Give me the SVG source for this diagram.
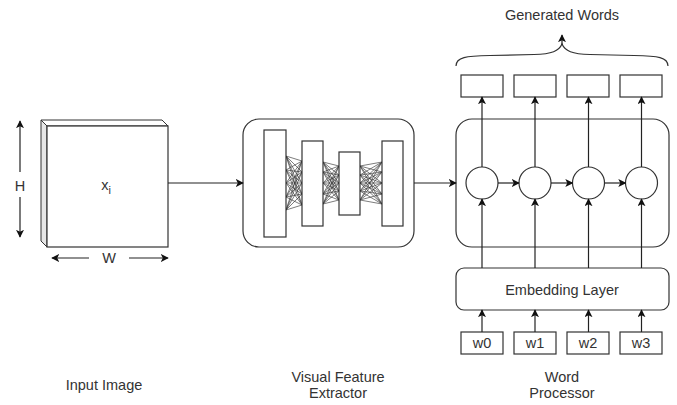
<svg xmlns="http://www.w3.org/2000/svg" width="677" height="405" viewBox="0 0 677 405">
  <style>
    .ln { fill: none; stroke: #222; stroke-width: 1.2; }
    .box { fill: #fff; stroke: #333; stroke-width: 1.2; }
    .mesh { fill: none; stroke: #333; stroke-width: 0.8; stroke-opacity: 0.8; }
    .t { font-family: "Liberation Sans", Arial, sans-serif; font-size: 14.5px; fill: #333; text-anchor: middle; }
  </style>
  <defs>
    <marker id="arr" viewBox="0 0 10 10" refX="9" refY="5" markerWidth="8" markerHeight="8" markerUnits="userSpaceOnUse" orient="auto-start-reverse">
      <path d="M0,0 L10,5 L0,10 L2.5,5 z" fill="#111"/>
    </marker>
  </defs>

  <!-- input image block -->
  <g id="input-image">
    <polygon points="41,120 47,126 47,247 41,241" fill="#e6e6e6" stroke="#333" stroke-width="1"/>
    <polygon points="41,120 162,120 168,126 47,126" fill="#fff" stroke="#333" stroke-width="1"/>
    <rect x="47" y="126" width="121" height="121" class="box"/>
    <text x="106" y="190" class="t" font-size="15">x<tspan font-size="11" dy="4">i</tspan></text>
    <line x1="20" y1="172" x2="20" y2="121" class="ln" marker-end="url(#arr)"/>
    <line x1="20" y1="197" x2="20" y2="237" class="ln" marker-end="url(#arr)"/>
    <text x="20" y="191" class="t">H</text>
    <line x1="89" y1="258" x2="52" y2="258" class="ln" marker-end="url(#arr)"/>
    <line x1="129" y1="258" x2="168" y2="258" class="ln" marker-end="url(#arr)"/>
    <text x="109" y="263" class="t">W</text>
    <text x="104" y="390" class="t">Input Image</text>
  </g>

  <!-- visual feature extractor -->
  <g id="visual-feature-extractor">
    <rect x="243" y="119" width="171" height="128" rx="16" class="box"/>
    <g class="mesh">
      <!-- layer 1 to layer 2 -->
      <path d="M286,156 L302,161 M286,156 L302,172 M286,156 L302,183 M286,156 L302,194 M286,156 L302,205
               M286,170 L302,161 M286,170 L302,172 M286,170 L302,183 M286,170 L302,194 M286,170 L302,205
               M286,183 L302,161 M286,183 L302,172 M286,183 L302,183 M286,183 L302,194 M286,183 L302,205
               M286,197 L302,161 M286,197 L302,172 M286,197 L302,183 M286,197 L302,194 M286,197 L302,205
               M286,210 L302,161 M286,210 L302,172 M286,210 L302,183 M286,210 L302,194 M286,210 L302,205"/>
      <!-- layer 2 to layer 3 -->
      <path d="M323,162 L339,166 M323,162 L339,175 M323,162 L339,183 M323,162 L339,191 M323,162 L339,200
               M323,172 L339,166 M323,172 L339,175 M323,172 L339,183 M323,172 L339,191 M323,172 L339,200
               M323,183 L339,166 M323,183 L339,175 M323,183 L339,183 M323,183 L339,191 M323,183 L339,200
               M323,194 L339,166 M323,194 L339,175 M323,194 L339,183 M323,194 L339,191 M323,194 L339,200
               M323,204 L339,166 M323,204 L339,175 M323,204 L339,183 M323,204 L339,191 M323,204 L339,200"/>
      <!-- layer 3 to layer 4 -->
      <path d="M360,166 L382,162 M360,166 L382,172 M360,166 L382,183 M360,166 L382,194 M360,166 L382,204
               M360,175 L382,162 M360,175 L382,172 M360,175 L382,183 M360,175 L382,194 M360,175 L382,204
               M360,183 L382,162 M360,183 L382,172 M360,183 L382,183 M360,183 L382,194 M360,183 L382,204
               M360,191 L382,162 M360,191 L382,172 M360,191 L382,183 M360,191 L382,194 M360,191 L382,204
               M360,200 L382,162 M360,200 L382,172 M360,200 L382,183 M360,200 L382,194 M360,200 L382,204"/>
    </g>
    <rect x="264" y="130" width="22" height="107" class="box"/>
    <rect x="302" y="141" width="21" height="85" class="box"/>
    <rect x="339" y="152" width="21" height="63" class="box"/>
    <rect x="382" y="141" width="21" height="85" class="box"/>
    <text x="338" y="382" class="t">Visual Feature</text>
    <text x="338" y="398" class="t">Extractor</text>
  </g>

  <!-- word processor -->
  <g id="word-processor">
    <rect x="456" y="119" width="213" height="128" rx="16" class="box"/>
    <circle cx="482" cy="183" r="16" class="box"/>
    <circle cx="535" cy="183" r="16" class="box"/>
    <circle cx="588.5" cy="183" r="16" class="box"/>
    <circle cx="641.5" cy="183" r="16" class="box"/>
    <text x="562" y="382" class="t">Word</text>
    <text x="562" y="398" class="t">Processor</text>
  </g>

  <g id="embedding-layer">
    <rect x="456" y="268" width="213" height="42" rx="8" class="box"/>
    <text x="562" y="295" class="t">Embedding Layer</text>
  </g>

  <g id="generated-words">
    <rect x="461" y="75" width="42" height="22" class="box"/>
    <rect x="514" y="75" width="42" height="22" class="box"/>
    <rect x="567" y="75" width="42" height="22" class="box"/>
    <rect x="620" y="75" width="42" height="22" class="box"/>
    <path d="M456,66 C456,57 466,56 490,55.5 L534,54.5 C552,54 559,51 562,44 C565,51 572,54 590,54.5 L634,55.5 C658,56 668,57 668,66" fill="none" stroke="#333" stroke-width="1.2"/>
    <line x1="562" y1="45" x2="562" y2="35" class="ln" marker-end="url(#arr)"/>
    <text x="562" y="20" class="t">Generated Words</text>
  </g>

  <g id="input-words">
    <rect x="461" y="332" width="42" height="22" class="box"/>
    <rect x="514" y="332" width="42" height="22" class="box"/>
    <rect x="567" y="332" width="42" height="22" class="box"/>
    <rect x="620" y="332" width="42" height="22" class="box"/>
    <text x="482" y="348" class="t" font-size="13">w0</text>
    <text x="535" y="348" class="t" font-size="13">w1</text>
    <text x="588" y="348" class="t" font-size="13">w2</text>
    <text x="641" y="348" class="t" font-size="13">w3</text>
  </g>

  <!-- connectors -->
  <g id="connectors" class="ln">
    <line x1="168" y1="183" x2="243" y2="183" marker-end="url(#arr)"/>
    <line x1="414" y1="183" x2="456" y2="183" marker-end="url(#arr)"/>
    <!-- recurrent links -->
    <line x1="498" y1="183" x2="519" y2="183" marker-end="url(#arr)"/>
    <line x1="551" y1="183" x2="572.5" y2="183" marker-end="url(#arr)"/>
    <line x1="604.5" y1="183" x2="625.5" y2="183" marker-end="url(#arr)"/>
    <!-- cells to outputs -->
    <line x1="482" y1="167" x2="482" y2="97" marker-end="url(#arr)"/>
    <line x1="535" y1="167" x2="535" y2="97" marker-end="url(#arr)"/>
    <line x1="588.5" y1="167" x2="588.5" y2="97" marker-end="url(#arr)"/>
    <line x1="641.5" y1="167" x2="641.5" y2="97" marker-end="url(#arr)"/>
    <!-- embedding to cells -->
    <line x1="482" y1="268" x2="482" y2="199" marker-end="url(#arr)"/>
    <line x1="535" y1="268" x2="535" y2="199" marker-end="url(#arr)"/>
    <line x1="588.5" y1="268" x2="588.5" y2="199" marker-end="url(#arr)"/>
    <line x1="641.5" y1="268" x2="641.5" y2="199" marker-end="url(#arr)"/>
    <!-- words to embedding -->
    <line x1="482" y1="332" x2="482" y2="310" marker-end="url(#arr)"/>
    <line x1="535" y1="332" x2="535" y2="310" marker-end="url(#arr)"/>
    <line x1="588.5" y1="332" x2="588.5" y2="310" marker-end="url(#arr)"/>
    <line x1="641.5" y1="332" x2="641.5" y2="310" marker-end="url(#arr)"/>
  </g>
</svg>
